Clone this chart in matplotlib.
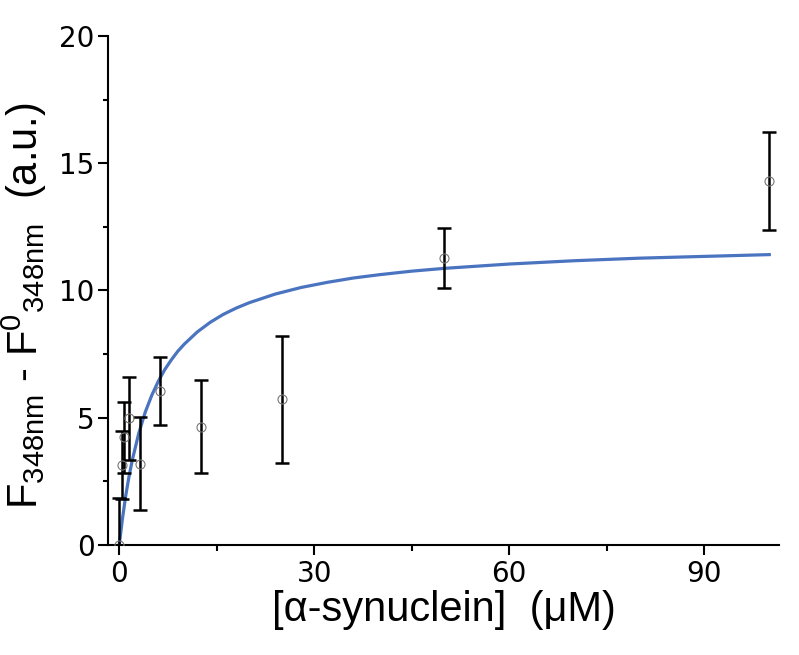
import numpy as np
import matplotlib
matplotlib.use('Agg')
import matplotlib.pyplot as plt
from matplotlib.ticker import MultipleLocator

plt.rcParams['font.family'] = ['DejaVu Sans']
plt.rcParams['mathtext.default'] = 'regular'

# 测量数据（浓度 μM，荧光差值，误差）
conc = [0, 0.39, 0.78, 1.56, 3.125, 6.25, 12.5, 25, 50, 100]
signal = [0.0, 3.14, 4.23, 4.97, 3.20, 6.05, 4.65, 5.73, 11.26, 14.30]
err = [1.83, 1.35, 1.40, 1.62, 1.83, 1.34, 1.82, 2.49, 1.18, 1.92]

# 拟合曲线
fit_x = [0, 0.5, 1, 1.5, 2, 3, 4, 5, 6, 7, 8, 9, 10, 12, 14, 16, 18, 20,
         24, 28, 32, 36, 40, 45, 50, 60, 70, 80, 90, 100]
fit_y = [0, 1.05, 1.94, 2.69, 3.33, 4.39, 5.22, 5.88, 6.43, 6.89, 7.27, 7.61,
         7.89, 8.37, 8.75, 9.06, 9.31, 9.52, 9.86, 10.12, 10.32, 10.49, 10.62,
         10.76, 10.87, 11.04, 11.17, 11.27, 11.34, 11.41]

fig = plt.figure(figsize=(7.99, 6.55), dpi=100)
ax = fig.add_axes([0.1355, 0.168, 0.8395, 0.777])

ax.plot(fit_x, fit_y, color='#4a74c0', linewidth=2.3, zorder=2)
ax.errorbar(conc, signal, yerr=err, fmt='none', ecolor='black',
            elinewidth=1.8, capsize=5, capthick=1.8, zorder=3)
ax.plot(conc, signal, linestyle='none', marker='o', markersize=6.5,
        markerfacecolor='none', markeredgecolor='#777777',
        markeredgewidth=0.8, zorder=4)

ax.set_xlim(-1.69, 101.5)
ax.set_ylim(0, 20)
ax.xaxis.set_major_locator(MultipleLocator(30))
ax.xaxis.set_minor_locator(MultipleLocator(15))
ax.yaxis.set_major_locator(MultipleLocator(5))
ax.yaxis.set_minor_locator(MultipleLocator(2.5))

for s in ['top', 'right']:
    ax.spines[s].set_visible(False)
for s in ['left', 'bottom']:
    ax.spines[s].set_linewidth(1.5)

ax.tick_params(axis='both', which='major', width=1.5, labelsize=20)
ax.tick_params(axis='x', which='major', length=7)
ax.tick_params(axis='x', which='minor', length=4, width=1.5)
ax.tick_params(axis='y', which='major', length=7, pad=3)
ax.tick_params(axis='y', which='minor', length=3.5, width=1.5)

lab_font = ['Liberation Sans', 'DejaVu Sans']
ax.set_xlabel('[α-synuclein]  (μM)', fontsize=30, family=lab_font, labelpad=2)
ax.set_ylabel(r'F$_{348nm}$ - F$^{0}{}_{348nm}$  (a.u.)', fontsize=30,
              family=lab_font)
ax.yaxis.set_label_coords(-0.088, 0.47)

plt.savefig('out.png', dpi=100)
